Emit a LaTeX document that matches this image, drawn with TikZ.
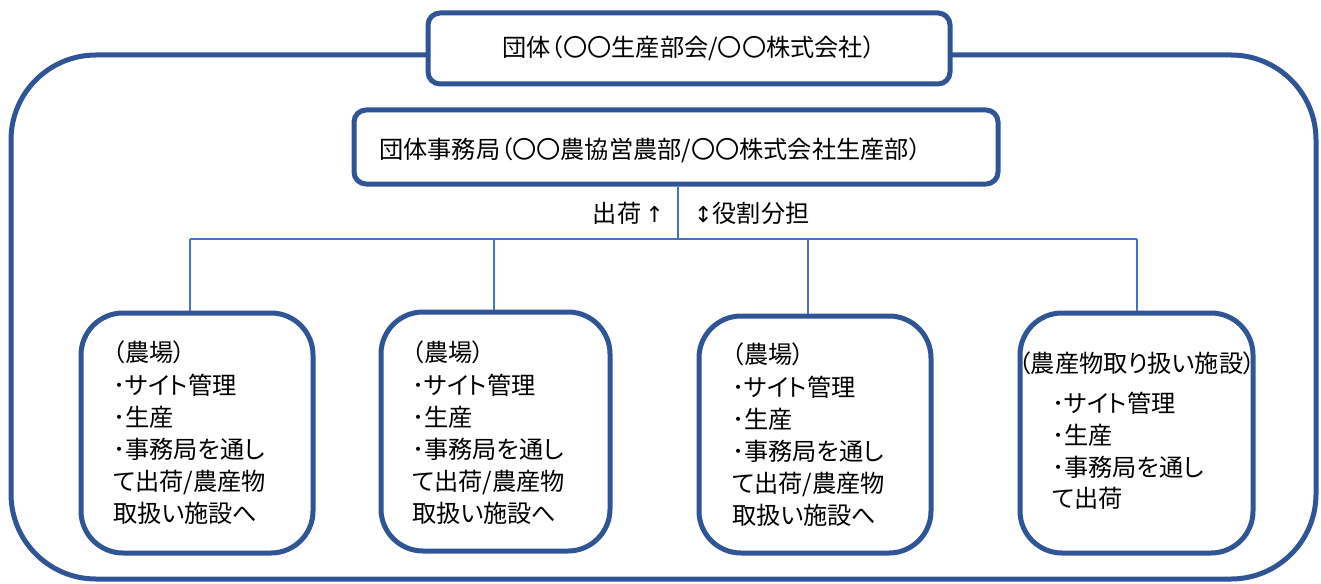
\documentclass[tikz,border=0pt]{standalone}
\usepackage{fontspec}
\setmainfont{Noto Sans CJK JP}[RawFeature=+palt]
\newfontfamily\symfont{DejaVu Sans}
\definecolor{boxblue}{RGB}{47,85,151}
\definecolor{lineblue}{RGB}{68,114,196}
\begin{document}
\begin{tikzpicture}[x=1pt,y=-1pt,
  bigbox/.style={draw=boxblue, line width=5pt, rectangle, rounded corners=85pt, inner sep=0pt},
  headbox/.style={draw=boxblue, line width=5pt, fill=white, rectangle, rounded corners=12pt, inner sep=0pt},
  unitbox/.style={draw=boxblue, line width=5pt, fill=white, rectangle, rounded corners=42pt, inner sep=0pt},
  txt/.style={inner sep=0pt, font=\fontsize{24.2}{32.2}\selectfont, align=left, text=black},
  link/.style={draw=lineblue, line width=1.5pt}]
\useasboundingbox (0,0) rectangle (1321,583);
% outer frame
\node[bigbox, minimum width=1305pt, minimum height=524pt] (outer) at (663.5,317) {};
% header boxes
\node[headbox, minimum width=522pt, minimum height=71pt, txt] (top) at (689,48.5) {団体（〇〇生産部会/〇〇株式会社）};
\node[headbox, minimum width=644pt, minimum height=74pt] (sec) at (676,147) {};
\node[txt, anchor=west] (sectxt) at (379,150) {団体事務局（〇〇農協営農部/〇〇株式会社生産部）};
% unit boxes
\node[unitbox, minimum width=232pt, minimum height=240pt] (b1) at (197,433) {};
\node[unitbox, minimum width=229pt, minimum height=239pt] (b2) at (495.5,431.5) {};
\node[unitbox, minimum width=232pt, minimum height=237pt] (b3) at (815,434.5) {};
\node[unitbox, minimum width=233pt, minimum height=240pt] (b4) at (1136.5,433) {};
% texts
\node[txt, anchor=north west] (t1) at (113,341) {（農場）\\･サイト管理\\･生産\\･事務局を通し\\て出荷/農産物\\取扱い施設へ};
\node[txt, anchor=north west] (t2) at (412,341) {（農場）\\･サイト管理\\･生産\\･事務局を通し\\て出荷/農産物\\取扱い施設へ};
\node[txt, anchor=north west] (t3) at (732,343) {（農場）\\･サイト管理\\･生産\\･事務局を通し\\て出荷/農産物\\取扱い施設へ};
\node[txt] (t4h) at (1137,363) {（農産物取り扱い施設）};
\node[txt, anchor=north west, font=\fontsize{24.2}{31.7}\selectfont] (t4) at (1052,392) {･サイト管理\\･生産\\･事務局を通し\\て出荷};
% connector labels
\node[txt, anchor=east] (lup) at (664,213) {出荷\,{\symfont\fontsize{22}{22}\selectfont ↑}};
\node[txt, anchor=west] (lrole) at (694,213) {{\symfont\fontsize{22}{22}\selectfont ↕}役割分担};
% connectors
\coordinate (jc) at (678,239);
\coordinate (j1) at (190,239);
\coordinate (j2) at (494,239);
\coordinate (j3) at (808,239);
\coordinate (j4) at (1137,239);
\draw[link] (jc |- sec.south) -- (jc);
\draw[link] (j1) -- (j4);
\draw[link] (j1) -- (j1 |- b1.north);
\draw[link] (j2) -- (j2 |- b2.north);
\draw[link] (j3) -- (j3 |- b3.north);
\draw[link] (j4) -- (j4 |- b4.north);
\end{tikzpicture}
\end{document}
